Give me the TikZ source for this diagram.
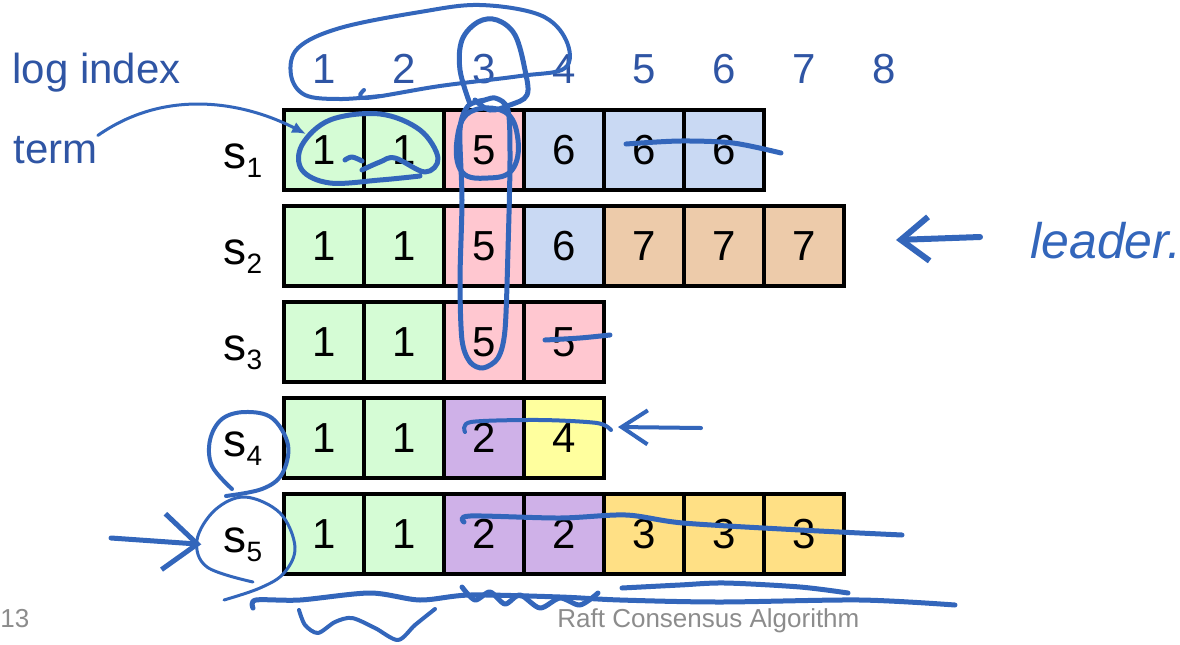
\documentclass[tikz,border=0pt]{standalone}
\usepackage{fontspec}
\setmainfont{Liberation Sans}
\usepackage{tikz}
\usetikzlibrary{arrows.meta,positioning}
\definecolor{IdxBlue}{HTML}{2F55A4}
\definecolor{InkBlue}{HTML}{3366BB}
\definecolor{FootGray}{HTML}{8C8C8C}
\definecolor{TermG}{HTML}{D5FCD5}
\definecolor{TermP}{HTML}{FFC7D0}
\definecolor{TermB}{HTML}{C9D9F3}
\definecolor{TermT}{HTML}{EDCBAA}
\definecolor{TermV}{HTML}{CFB1E8}
\definecolor{TermY}{HTML}{FFFF9E}
\definecolor{TermO}{HTML}{FFE085}

\begin{document}
\begin{tikzpicture}[
  x=0.5pt, y=-0.5pt,
  cell/.style={draw,line width=2pt,minimum width=40pt,minimum height=40pt,inner sep=0pt,font=\fontsize{21}{21}\selectfont},
  idx/.style={text=IdxBlue,font=\fontsize{21}{21}\selectfont,inner sep=0pt},
  srv/.style={inner sep=0pt,font=\fontsize{23}{23}\selectfont},
  foot/.style={text=FootGray,font=\fontsize{13}{13}\selectfont,inner sep=0pt},
  ink/.style={draw=InkBlue,line width=2.5pt,line cap=round,line join=round},
  thinink/.style={ink,line width=1.5pt}
]
  \useasboundingbox (0,0) rectangle (1180,644);

  % log index row
  \node[idx,anchor=base west] (logidx) at (12,83) {log index};
  \foreach \i in {1,...,8}
    \node[idx,anchor=base] (ix\i) at (244+80*\i,83) {\i};
  \node[idx,anchor=base west] (term) at (13,163) {term};

  % server logs
  \foreach \r/\row in {1/{1/G,1/G,5/P,6/B,6/B,6/B},
                       2/{1/G,1/G,5/P,6/B,7/T,7/T,7/T},
                       3/{1/G,1/G,5/P,5/P},
                       4/{1/G,1/G,2/V,4/Y},
                       5/{1/G,1/G,2/V,2/V,3/O,3/O,3/O}} {
    \node[srv,anchor=base] (lbl\r) at (243,72+96*\r)
      {s\raisebox{-4.5pt}{\fontsize{14}{14}\selectfont\r}};
    \foreach \t/\c [count=\i] in \row
      \node[cell,fill=Term\c] (s\r-\i) at (244+80*\i,54+96*\r) {\t};
  }

  % footer
  \node[foot,anchor=base west] (pgno) at (0,627) {13};
  \node[foot,anchor=base west] (foot) at (557,627) {Raft Consensus Algorithm};

  % hand annotations
  \draw[thinink,-{Latex[length=7pt,width=6pt]}] (term.north east)
    .. controls (170,85) and (250,105) .. ([shift={(24,26)}]s1-1.north west);
  \draw[ink,line width=2pt] plot[smooth,tension=0.6] coordinates
    {(364,90) (366,98) (440,86) (520,76) (565,68) (566,40) (540,15) (480,5)
     (420,12) (340,28) (298,48) (291,75) (305,95) (340,99) (380,96)};
  \draw[ink] plot[smooth,tension=0.6] coordinates
    {(470,104) (460,70) (462,40) (478,22) (497,20) (515,35) (525,70) (527,95)
     (510,105) (490,110) (475,100)};
  \draw[ink] plot[smooth,tension=0.5] coordinates
    {(485,100) (468,106) (460,130) (462,200) (460,280) (462,340) (470,362)
     (483,368) (498,358) (505,330) (508,250) (510,160) (508,110) (495,98) (480,102)};
  \draw[ink] plot[smooth cycle,tension=0.7] coordinates
    {(470,112) (457,140) (462,172) (488,178) (512,170) (518,140) (505,112)};
  \draw[ink] plot[smooth,tension=0.6] coordinates
    {(345,160) (352,157) (362,161)};
  \draw[ink] plot[smooth,tension=0.6] coordinates
    {(362,170) (380,162) (395,158) (425,172) (438,158) (420,130) (380,114)
     (330,120) (302,145) (302,170) (330,183) (380,180) (420,176)};
  \draw[ink] plot[smooth] coordinates {(626,144) (680,141) (733,143) (781,153)};

  \coordinate (leadtail) at (980,237);
  \draw[ink,line width=3pt,-{Straight Barb[length=14pt,width=22pt]}] (leadtail) -- ([shift={(50,-6)}]s2-7.east);
  \node[text=InkBlue,font=\fontsize{25}{25}\selectfont\itshape,anchor=base west,inner sep=0pt]
    (leader) at (1030,258) {leader.};

  \draw[ink] plot[smooth] coordinates {(545,340) (580,338) (610,335)};

  \draw[ink,line width=2pt] plot[smooth] coordinates
    {(465,432) (471,422) (540,420) (597,423) (611,430)};
  \coordinate (s4tail) at (701,428);
  \draw[ink,line width=2pt,-{Straight Barb[length=13pt,width=17pt]}] (s4tail) -- ([shift={(12,-11)}]s4-4.east);
  \draw[ink,line width=2pt] plot[smooth,tension=0.6] coordinates
    {(232,489) (212,466) (210,440) (222,419) (245,412) (272,418) (288,445)
     (282,474) (262,489) (226,496)};

  \draw[thinink] plot[smooth,tension=0.6] coordinates
    {(253,582) (207,567) (197,540) (215,510) (245,497) (280,513) (295,547)
     (284,573) (260,588) (224,600)};
  \coordinate (s5tail) at (111,538);
  \draw[ink,-{Straight Barb[length=17pt,width=28pt]}] (s5tail) -- ([xshift=-11pt]lbl5.west);

  \draw[ink] plot[smooth] coordinates
    {(464,522) (470,516) (560,518) (626,515) (683,523) (800,530) (902,535)};
  \draw[ink] plot[smooth] coordinates
    {(253,608) (256,600) (300,600) (370,593) (420,600) (470,595) (560,597)
     (620,600) (720,602) (860,600) (955,605)};
  \draw[ink] plot[smooth] coordinates
    {(622,588) (680,585) (725,583) (800,587) (848,593)};
  \draw[ink] plot[smooth] coordinates
    {(462,587) (475,600) (490,592) (505,604) (520,595) (540,608) (560,598)
     (580,605) (598,593)};
  \draw[ink,line width=2pt] plot[smooth] coordinates
    {(299,610) (305,625) (318,633) (335,622) (352,618) (375,628) (398,640)
     (415,625) (435,609)};
\end{tikzpicture}
\end{document}
